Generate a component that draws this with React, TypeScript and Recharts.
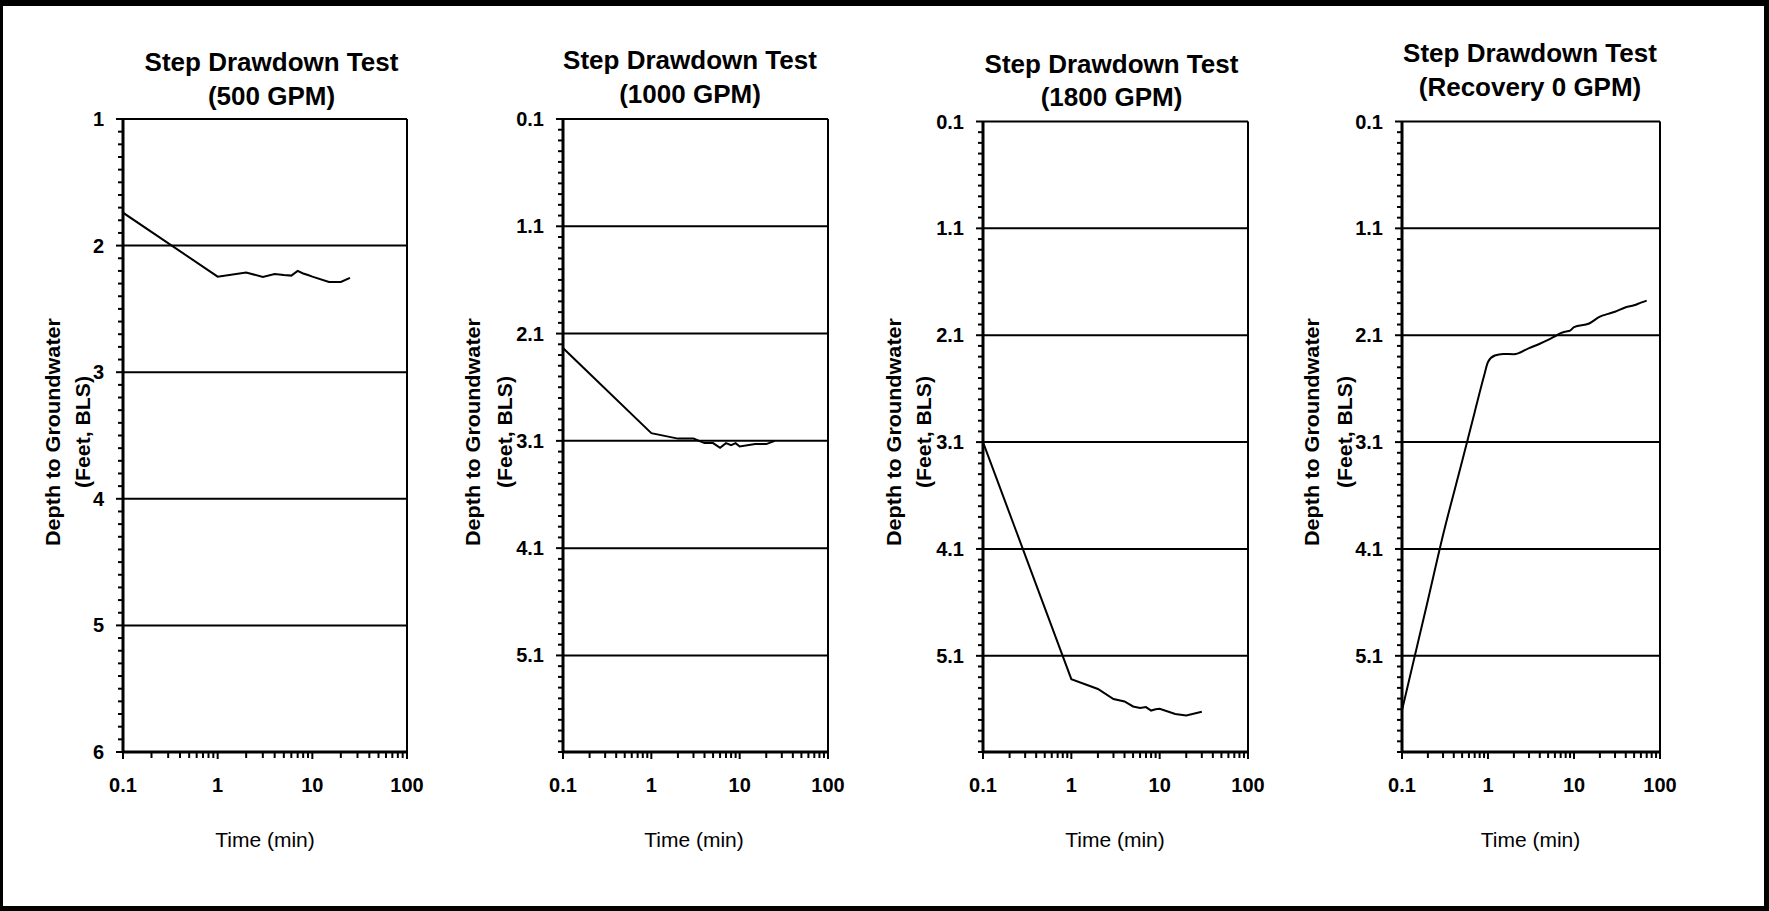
import React from 'react';
import { LineChart, Line, XAxis, YAxis, ReferenceLine } from 'recharts';

// ---------- data ----------
const timeMajorTicks = [0.1, 1, 10, 100];
const timeMinorTicks = [0.2, 0.3, 0.4, 0.5, 0.6, 0.7, 0.8, 0.9, 2, 3, 4, 5, 6, 7, 8, 9, 20, 30, 40, 50, 60, 70, 80, 90];

const depthMajors500 = [1, 2, 3, 4, 5, 6];
const depthMajorsOther = [0.1, 1.1, 2.1, 3.1, 4.1, 5.1];

const time500 = [0.1, 1, 2, 3, 4, 5, 6, 7, 8, 9, 10, 15, 20, 25];
const depth500 = [1.74, 2.245, 2.213, 2.247, 2.224, 2.232, 2.237, 2.2, 2.22, 2.232, 2.245, 2.287, 2.287, 2.255];

const time1000 = [0.1, 1, 2, 3, 4, 5, 6, 7, 8, 9, 10, 15, 20, 25];
const depth1000 = [2.235, 3.028, 3.079, 3.079, 3.121, 3.121, 3.165, 3.121, 3.14, 3.121, 3.153, 3.13, 3.13, 3.1];

const time1800 = [0.1, 1, 2, 3, 4, 5, 6, 7, 8, 9, 10, 15, 20, 30];
const depth1800 = [3.1, 5.318, 5.41, 5.505, 5.527, 5.574, 5.589, 5.58, 5.612, 5.6, 5.596, 5.645, 5.658, 5.624];

const timeRecovery = [0.1, 0.2, 0.3, 0.5, 0.7, 0.9, 1, 1.2, 1.5, 2, 3, 4, 5, 6, 7, 8, 9, 10, 15, 20, 25, 30, 40, 50, 60, 70];
const depthRecovery = [5.61, 4.58, 3.97, 3.28, 2.82, 2.48, 2.35, 2.29, 2.275, 2.278, 2.22, 2.18, 2.144, 2.11, 2.08, 2.066, 2.057, 2.025, 1.99, 1.926, 1.9, 1.88, 1.838, 1.82, 1.795, 1.776];

const titles = ['(500 GPM)', '(1000 GPM)', '(1800 GPM)', '(Recovery 0 GPM)'];

// ---------- helpers ----------
const FONT = "'Liberation Sans', Arial, Helvetica, sans-serif";
const near = (a: number, b: number) => Math.abs(a - b) < 1e-6;
const minorTicks = (lo: number, hi: number, majors: number[]) => {
  const out: number[] = [];
  for (let i = 1; ; i++) {
    const v = Math.round((lo + i * 0.1) * 1000) / 1000;
    if (v > hi + 1e-9) break;
    if (!majors.some((m) => near(m, v))) out.push(v);
  }
  return out;
};

const Y_W = 110;
const X_H = 80;
const H = 911;

type Panel = {
  sub: string;
  t: number[];
  d: number[];
  domain: [number, number];
  majors: number[];
  fmt: (v: number) => string;
  plotLeft: number;
  plotRight: number;
  plotTop: number;
  plotBottom: number;
  curve: 'linear' | 'monotone';
  titleX: number;
  titleY1: number;
  titleY2: number;
  yt1: number;
  yt2: number;
  timeX: number;
};

const panels: Panel[] = [
  {
    sub: titles[0], t: time500, d: depth500, domain: [1, 6], majors: depthMajors500,
    fmt: (v) => String(v), plotLeft: 123, plotRight: 407, plotTop: 119, plotBottom: 752,
    curve: 'linear', titleX: 271.5, titleY1: 71, titleY2: 104.5, yt1: 60, yt2: 89.5, timeX: 265,
  },
  {
    sub: titles[1], t: time1000, d: depth1000, domain: [0.1, 6], majors: depthMajorsOther,
    fmt: (v) => v.toFixed(1), plotLeft: 563, plotRight: 828, plotTop: 119, plotBottom: 752,
    curve: 'linear', titleX: 690, titleY1: 69, titleY2: 102.5, yt1: 480, yt2: 512, timeX: 694,
  },
  {
    sub: titles[2], t: time1800, d: depth1800, domain: [0.1, 6], majors: depthMajorsOther,
    fmt: (v) => v.toFixed(1), plotLeft: 983, plotRight: 1248, plotTop: 121.5, plotBottom: 752,
    curve: 'linear', titleX: 1111.5, titleY1: 72.5, titleY2: 106, yt1: 901, yt2: 931, timeX: 1115,
  },
  {
    sub: titles[3], t: timeRecovery, d: depthRecovery, domain: [0.1, 6], majors: depthMajorsOther,
    fmt: (v) => v.toFixed(1), plotLeft: 1402, plotRight: 1660, plotTop: 121.5, plotBottom: 752,
    curve: 'monotone', titleX: 1530, titleY1: 62, titleY2: 95.5, yt1: 1319, yt2: 1352, timeX: 1530.5,
  },
];

const makeYTick = (majors: number[], fmt: (v: number) => string) => (props: any) => {
  const { y, payload } = props;
  const v = payload.value as number;
  const isMajor = majors.some((m) => near(m, v));
  return (
    <g>
      <line x1={Y_W} x2={Y_W - (isMajor ? 7 : 5)} y1={y} y2={y} stroke="#000" strokeWidth={2} />
      {isMajor && (
        <text x={Y_W - 19} y={y} dy="0.35em" textAnchor="end" fontFamily={FONT} fontWeight="bold" fontSize={20} fill="#000">
          {fmt(v)}
        </text>
      )}
    </g>
  );
};

const makeXTick = (axisY: number) => (props: any) => {
  const { x, payload } = props;
  const v = payload.value as number;
  const isMajor = timeMajorTicks.some((m) => near(m, v));
  return (
    <g>
      <line x1={x} x2={x} y1={axisY} y2={axisY + (isMajor ? 7 : 6)} stroke="#000" strokeWidth={2} />
      {isMajor && (
        <text x={x} y={792} textAnchor="middle" fontFamily={FONT} fontWeight="bold" fontSize={20} fill="#000">
          {String(v)}
        </text>
      )}
    </g>
  );
};

const allTimeTicks = [...timeMajorTicks, ...timeMinorTicks].sort((a, b) => a - b);

function PanelChart({ p }: { p: Panel }) {
  const chartLeft = p.plotLeft - Y_W;
  const width = p.plotRight - chartLeft + 20;
  const data = p.t.map((t, i) => ({ t, d: p.d[i] }));
  const yTicks = [...p.majors, ...minorTicks(p.domain[0], p.domain[1], p.majors)].sort((a, b) => a - b);
  const grid = p.majors.filter((m) => !near(m, p.domain[0]) && !near(m, p.domain[1]));
  return (
    <div style={{ position: 'absolute', left: chartLeft, top: 0 }}>
      <LineChart
        width={width}
        height={H}
        data={data}
        margin={{ top: p.plotTop, right: 20, left: 0, bottom: H - p.plotBottom - X_H }}
      >
        <XAxis
          dataKey="t"
          type="number"
          scale="log"
          domain={[0.1, 100]}
          allowDataOverflow
          ticks={allTimeTicks}
          interval={0}
          height={X_H}
          tickLine={false}
          axisLine={{ stroke: '#000', strokeWidth: 3 }}
          tick={makeXTick(p.plotBottom)}
        />
        <YAxis
          type="number"
          reversed
          domain={p.domain}
          allowDataOverflow
          ticks={yTicks}
          interval={0}
          width={Y_W}
          tickLine={false}
          axisLine={{ stroke: '#000', strokeWidth: 3 }}
          tick={makeYTick(p.majors, p.fmt)}
        />
        {grid.map((g) => (
          <ReferenceLine key={g} y={g} stroke="#000" strokeWidth={2} />
        ))}
        <ReferenceLine y={p.domain[0]} stroke="#000" strokeWidth={2} />
        <ReferenceLine x={100} stroke="#000" strokeWidth={2} />
        <Line
          type={p.curve}
          dataKey="d"
          stroke="#000"
          strokeWidth={2}
          dot={false}
          isAnimationActive={false}
        />
      </LineChart>
    </div>
  );
}

export default function App() {
  return (
    <div
      style={{
        position: 'absolute',
        left: 0,
        top: 0,
        width: 1769,
        height: 911,
        background: '#fff',
        boxSizing: 'border-box',
        overflow: 'hidden',
      }}
    >
      {panels.map((p, i) => (
        <PanelChart key={i} p={p} />
      ))}
      <svg
        width={1769}
        height={911}
        style={{ position: 'absolute', left: 0, top: 0, pointerEvents: 'none' }}
      >
        {panels.map((p, i) => (
          <g key={i} fontFamily={FONT} fill="#000">
            <text x={p.titleX} y={p.titleY1} textAnchor="middle" fontWeight="bold" fontSize={26}>
              Step Drawdown Test
            </text>
            <text x={p.titleX} y={p.titleY2} textAnchor="middle" fontWeight="bold" fontSize={26}>
              {p.sub}
            </text>
            <text
              x={p.yt1}
              y={432}
              transform={`rotate(-90 ${p.yt1} 432)`}
              textAnchor="middle"
              fontWeight="bold"
              fontSize={20}
              textLength={228}
              lengthAdjust="spacingAndGlyphs"
            >
              Depth to Groundwater
            </text>
            <text
              x={p.yt2}
              y={432}
              transform={`rotate(-90 ${p.yt2} 432)`}
              textAnchor="middle"
              fontWeight="bold"
              fontSize={20}
              textLength={112}
              lengthAdjust="spacingAndGlyphs"
            >
              (Feet, BLS)
            </text>
            <text x={p.timeX} y={847} textAnchor="middle" fontSize={21}>
              Time (min)
            </text>
          </g>
        ))}
        <rect x={0} y={0} width={1769} height={6} fill="#000" />
        <rect x={0} y={906} width={1769} height={5} fill="#000" />
        <rect x={0} y={0} width={3} height={911} fill="#000" />
        <rect x={1764} y={0} width={5} height={911} fill="#000" />
      </svg>
    </div>
  );
}
